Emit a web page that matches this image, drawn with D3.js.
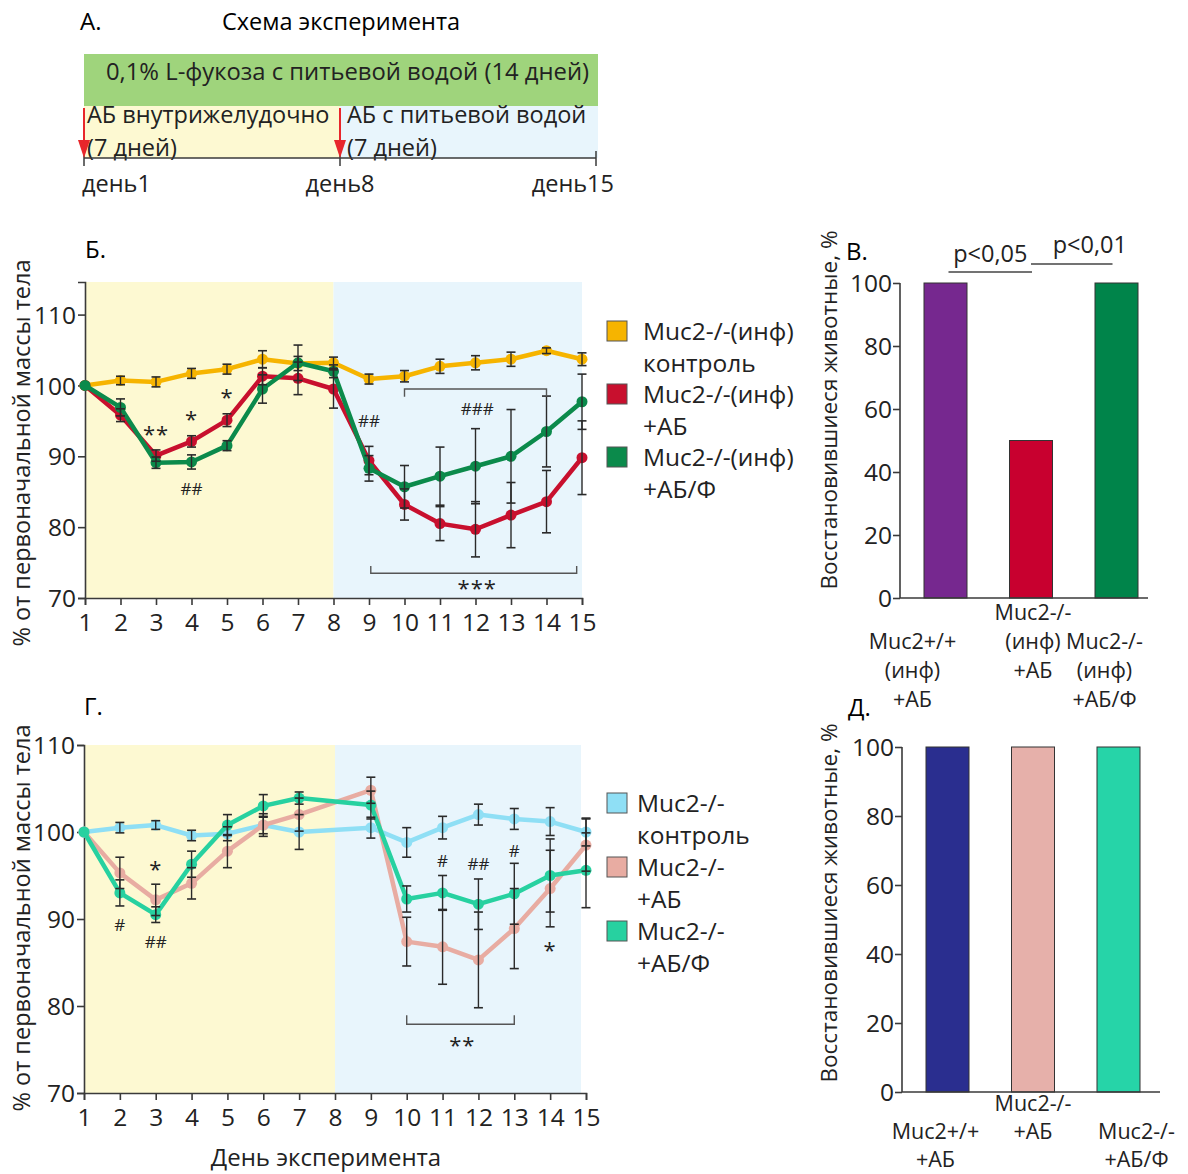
<!DOCTYPE html>
<html><head><meta charset="utf-8">
<script src="https://cdn.jsdelivr.net/npm/d3@7"></script>
<style>
body{margin:0;background:#fff;}
svg{display:block;font-family:"Open Sans",sans-serif;}
</style></head><body>
<svg id="c" width="1188" height="1174"></svg>
<script>
// ---------- DATA ----------
const days = [1,2,3,4,5,6,7,8,9,10,11,12,13,14,15];
const yTicksLine = [70,80,90,100,110];
const xTickLabels = ["1","2","3","4","5","6","7","8","9","10","11","12","13","14","15"];

// Panel Б
const bCtrl    = [100,100.7,100.5,101.7,102.3,103.7,103.1,103.2,100.9,101.3,102.7,103.2,103.7,104.9,103.7];
const bCtrlErr = [0,0.6,0.7,0.7,0.7,1.2,1.0,0.8,0.7,0.8,1.0,1.0,1.0,0.4,0.9];
const bAB      = [100,95.8,90.1,92.1,95.1,101.3,101.0,99.5,89.4,83.2,80.5,79.7,81.7,83.6,89.8];
const bABErr   = [0,0.9,0.8,0.8,0.9,1.2,2.3,2.7,2.0,2.2,2.4,3.9,4.6,4.4,5.2];
const bABF     = [100,96.9,89.1,89.2,91.5,99.5,103.2,102.0,88.3,85.7,87.2,88.6,90.0,93.5,97.7];
const bABFErr  = [0,1.2,0.8,1.0,0.7,2.0,2.5,0.9,1.8,3.0,4.1,5.3,6.6,5.0,3.9];
const bLegend  = [["Muc2-/-(инф)","контроль"],["Muc2-/-(инф)","+АБ"],["Muc2-/-(инф)","+АБ/Ф"]];
const bAnn = [[3,93.9,"**"],[4,96.0,"*"],[5,99.1,"*"],[4,85.4,"##"],[9,95.0,"##"],[12.05,96.7,"###"],[12.05,72.1,"***"]];

// Panel Г
const gCtrl    = [100,100.5,100.8,99.6,99.8,100.8,100.0,null,100.5,98.8,100.5,102.0,101.5,101.2,100.0];
const gCtrlErr = [0,0.6,0.5,0.6,0.8,1.0,2.0,null,1.2,1.7,1.3,1.2,1.2,1.6,1.6];
const gAB      = [100,95.3,92.2,94.1,97.8,100.8,102.0,null,104.8,87.4,86.8,85.3,88.9,93.5,98.5];
const gABErr   = [0,1.8,1.8,1.8,1.9,1.3,1.9,null,1.5,2.8,4.3,5.5,4.6,4.4,3.0];
const gABF     = [100,93.0,90.5,96.3,100.8,103.0,103.9,null,103.1,92.3,93.0,91.7,92.9,95.0,95.6];
const gABFErr  = [0,1.5,0.9,1.5,1.2,1.3,0.7,null,1.6,1.5,2.0,2.9,3.5,4.2,4.3];
const gLegend  = [["Muc2-/-","контроль"],["Muc2-/-","+АБ"],["Muc2-/-","+АБ/Ф"]];
const gAnn = [[2,89.3,"#"],[3,96.4,"*"],[3,87.4,"##"],[11,96.7,"#"],[12,96.3,"##"],[13,97.8,"#"],[14,87.0,"*"],[11.55,76.1,"**"]];

// Bar panels
const barTicks = [0,20,40,60,80,100];
const vCats = [["Muc2+/+","(инф)","+АБ"],["Muc2-/-","(инф)","+АБ"],["Muc2-/-","(инф)","+АБ/Ф"]];
const vVals = [100,50,100];
const vSig = [["p<0,05",0,1],["p<0,01",1,2]];
const dCats = [["Muc2+/+","+АБ"],["Muc2-/-","+АБ"],["Muc2-/-","+АБ/Ф"]];
const dVals = [100,100,100];

// Scheme (panel A)
const schemeDays = [1,8,15];
const schemeLabels = ["день1","день8","день15"];

// ---------- DRAW ----------
const svg = d3.select("#c");
const AX = "#3a3a3a";
const YEL = "#fdf9d2", BLU = "#e8f5fc";

// Panel A
(function(){
  const g = svg.append("g");
  const x = d3.scaleLinear().domain([1,15]).range([84,596]);
  g.append("text").attr("x",80).attr("y",30).attr("font-size",24).text("А.");
  g.append("text").attr("x",341).attr("y",30).attr("font-size",23.5).attr("text-anchor","middle").text("Схема эксперимента");
  g.append("rect").attr("x",x(1)).attr("y",54).attr("width",x(15)+2-x(1)).attr("height",52).attr("fill","#9fd47c");
  g.append("rect").attr("x",x(1)).attr("y",106).attr("width",x(8)-x(1)).attr("height",52).attr("fill",YEL);
  g.append("rect").attr("x",x(8)).attr("y",106).attr("width",x(15)+2-x(8)).attr("height",52).attr("fill",BLU);
  g.append("text").attr("x",106).attr("y",80).attr("font-size",23.8).attr("fill","#222").text("0,1% L-фукоза с питьевой водой (14 дней)");
  g.append("text").attr("x",x(1)+3).attr("y",123).attr("font-size",23.5).attr("fill","#222").text("АБ внутрижелудочно");
  g.append("text").attr("x",x(1)+3).attr("y",156).attr("font-size",23.5).attr("fill","#222").text("(7 дней)");
  g.append("text").attr("x",x(8)+7).attr("y",123).attr("font-size",23.5).attr("fill","#222").text("АБ с питьевой водой");
  g.append("text").attr("x",x(8)+7).attr("y",156).attr("font-size",23.5).attr("fill","#222").text("(7 дней)");
  g.append("line").attr("x1",x(1)).attr("x2",x(15)).attr("y1",158).attr("y2",158).attr("stroke",AX).attr("stroke-width",1.5);
  schemeDays.forEach((d,i)=>{
    g.append("line").attr("x1",x(d)).attr("x2",x(d)).attr("y1",151).attr("y2",166).attr("stroke",AX).attr("stroke-width",1.5);
    g.append("text").attr("x",x(d)).attr("y",192).attr("font-size",23.5).attr("fill","#222")
      .attr("text-anchor", i===0?"start":(i===1?"middle":"end")).attr("dx", i===0?-2:(i===2?18:0)).text(schemeLabels[i]);
  });
  [1,8].forEach(d=>{
    g.append("line").attr("x1",x(d)).attr("x2",x(d)).attr("y1",108).attr("y2",146).attr("stroke","#e8262b").attr("stroke-width",2);
    g.append("path").attr("d",`M${x(d)-6},140 L${x(d)+6},140 L${x(d)},158 Z`).attr("fill","#e8262b");
  });
})();

function linePanel(cfg){
  const g = svg.append("g");
  const x = d3.scaleLinear().domain([1,15]).range(cfg.xr);
  const y = d3.scaleLinear().domain(cfg.yd).range(cfg.yr);
  g.append("rect").attr("x",x(1)).attr("y",y(cfg.yd[1])).attr("width",x(8)-x(1)).attr("height",y(cfg.yd[0])-y(cfg.yd[1])).attr("fill",YEL);
  g.append("rect").attr("x",x(8)).attr("y",y(cfg.yd[1])).attr("width",cfg.bgEnd-x(8)).attr("height",y(cfg.yd[0])-y(cfg.yd[1])).attr("fill",BLU);
  const ya = g.append("g").attr("transform",`translate(${x(1)},0)`).call(d3.axisLeft(y).tickValues(yTicksLine).tickSize(7).tickPadding(2).tickFormat(d3.format("d")));
  const xa = g.append("g").attr("transform",`translate(0,${y(cfg.yd[0])})`).call(d3.axisBottom(x).tickValues(days).tickSize(7).tickPadding(3).tickFormat((d,i)=>xTickLabels[i]));
  [ya,xa].forEach(a=>{
    a.selectAll("path,line").attr("stroke",AX).attr("stroke-width",1.6);
    a.selectAll("text").attr("font-size",24.5).attr("fill","#222").attr("font-family","Open Sans");
  });
  xa.selectAll("text").attr("dy","0.95em");
  ya.selectAll("text").attr("dy","0.35em");
  g.append("text").attr("x",x(1)).attr("y",cfg.titleY).attr("font-size",24).text(cfg.title);
  g.append("text").attr("transform",`translate(30,${cfg.ylabY}) rotate(-90)`).attr("text-anchor","middle").attr("font-size",23.5).attr("fill","#222").text("% от первоначальной массы тела");
  const line = d3.line().x(d=>x(d[0])).y(d=>y(d[1]));
  cfg.series.forEach(s=>{
    const pts = days.map((d,i)=>[d,s.v[i]]).filter(p=>p[1]!=null);
    g.append("path").attr("d",line(pts)).attr("fill","none").attr("stroke",s.c).attr("stroke-width",4.5).attr("stroke-linejoin","round");
    g.selectAll(null).data(pts).enter().append("circle")
      .attr("cx",d=>x(d[0])).attr("cy",d=>y(d[1])).attr("r",5.5).attr("fill",s.c);
  });
  cfg.series.forEach(s=>{
    days.forEach((d,i)=>{
      const v=s.v[i], e=s.e[i];
      if(v==null||!e) return;
      const cx=x(d), y1=y(v+e), y2=y(v-e);
      g.append("line").attr("x1",cx).attr("x2",cx).attr("y1",y1).attr("y2",y2).attr("stroke","#2a2a2a").attr("stroke-width",1.4);
      [y1,y2].forEach(yy=>g.append("line").attr("x1",cx-4.5).attr("x2",cx+4.5).attr("y1",yy).attr("y2",yy).attr("stroke","#2a2a2a").attr("stroke-width",1.6));
    });
  });
  cfg.ann.forEach(a=>{
    const star = a[2].indexOf("*")>=0;
    g.append("text").attr("x",x(a[0])).attr("y",y(a[1])).attr("dy",star?"0.6em":"0.35em").attr("text-anchor","middle")
      .attr("font-size",star?22:17).attr("letter-spacing",star?"1px":"0").attr("fill","#222").text(a[2]);
  });
  cfg.brackets.forEach(b=>{
    const yb=y(b.v), yt=y(b.v+b.t);
    g.append("path").attr("d",`M${x(b.a)},${yt} L${x(b.a)},${yb} L${x(b.b)},${yb} L${x(b.b)},${yt}`)
      .attr("fill","none").attr("stroke","#555").attr("stroke-width",1.4);
  });
  cfg.legend.forEach((L,i)=>{
    const ly = cfg.legY + i*cfg.legStep;
    g.append("rect").attr("x",607).attr("y",ly-10).attr("width",20).attr("height",20).attr("fill",cfg.series[i].c).attr("stroke","#555").attr("stroke-width",1);
    L.forEach((t,j)=>g.append("text").attr("x",cfg.legX).attr("y",ly+j*cfg.legLine).attr("dy","0.35em").attr("font-size",24.5).attr("fill","#222").text(t));
  });
  return {x,y,g};
}

linePanel({
  xr:[85,582], yd:[70,114.6], yr:[598,282], bgEnd:582,
  title:"Б.", titleY:258, ylabY:453,
  series:[{v:bCtrl,e:bCtrlErr,c:"#f6b400"},{v:bAB,e:bABErr,c:"#c8102e"},{v:bABF,e:bABFErr,c:"#0b8a4b"}],
  ann:bAnn,
  brackets:[{a:10,b:14,v:99.5,t:-1.1},{a:9.05,b:14.85,v:73.5,t:1.0}],
  legend:bLegend, legX:643, legY:331, legStep:63, legLine:32
});

const pg = linePanel({
  xr:[84,586], yd:[70,110], yr:[1093,745], bgEnd:581,
  title:"Г.", titleY:715, ylabY:918,
  series:[{v:gCtrl,e:gCtrlErr,c:"#8fdff5"},{v:gAB,e:gABErr,c:"#e8aca2"},{v:gABF,e:gABFErr,c:"#27d1a0"}],
  ann:gAnn,
  brackets:[{a:10,b:13,v:77.9,t:1.05}],
  legend:gLegend, legX:637, legY:803, legStep:64, legLine:32
});
pg.g.append("text").attr("x",326).attr("y",1166).attr("text-anchor","middle").attr("font-size",24).attr("fill","#222").text("День эксперимента");

function barPanel(cfg){
  const g = svg.append("g");
  const y = d3.scaleLinear().domain([0,100]).range(cfg.yr);
  const x = d3.scalePoint().domain(cfg.cats.map((c,i)=>i)).range(cfg.cr);
  g.selectAll(null).data(cfg.vals).enter().append("rect")
    .attr("x",(d,i)=>x(i)-21.5).attr("width",43).attr("y",d=>y(d)).attr("height",d=>y(0)-y(d))
    .attr("fill",(d,i)=>cfg.colors[i]).attr("stroke","#333").attr("stroke-width",1);
  const ya = g.append("g").attr("transform",`translate(${cfg.ax},0)`).call(d3.axisLeft(y).tickValues(barTicks).tickSize(7).tickPadding(1));
  ya.select(".domain").remove();
  ya.selectAll("line").attr("stroke",AX).attr("stroke-width",1.6);
  ya.selectAll("text").attr("font-size",24.5).attr("fill","#222").attr("font-family","Open Sans").attr("dy","0.35em");
  g.append("line").attr("x1",cfg.ax).attr("x2",cfg.ax).attr("y1",y(0)).attr("y2",y(100)).attr("stroke",AX).attr("stroke-width",1.6);
  g.append("line").attr("x1",cfg.ax).attr("x2",cfg.axEnd).attr("y1",y(0)).attr("y2",y(0)).attr("stroke",AX).attr("stroke-width",1.6);
  g.append("text").attr("x",cfg.titleX).attr("y",cfg.titleY).attr("font-size",24).text(cfg.title);
  g.append("text").attr("transform",`translate(${cfg.ylabX},${cfg.ylabY}) rotate(-90)`).attr("text-anchor","middle").attr("font-size",22.5).attr("fill","#222").text("Восстановившиеся животные, %");
  cfg.cats.forEach((lines,i)=>{
    lines.forEach((t,j)=>g.append("text").attr("x",x(i)+cfg.labDx[i]).attr("y",cfg.labY[i]+j*cfg.labLine).attr("dy","0.35em")
      .attr("text-anchor","middle").attr("font-size",cfg.labFs).attr("fill","#222").text(t));
  });
  return {x,y,g};
}

const vb = barPanel({
  yr:[598,283], cr:[945.5,1116.5], cats:vCats, vals:vVals, colors:["#76288f","#c8002f","#00844a"],
  ax:900, axEnd:1148, title:"В.", titleX:846, titleY:260, ylabX:837, ylabY:410,
  labDx:[-33,2,-12], labY:[641,612,641], labLine:29, labFs:21.5
});
// significance lines
vSig.forEach((s,k)=>{
  const xa = vb.x(s[1]), xb = vb.x(s[2]);
  const x1 = k===0 ? xa+3 : xa, x2 = k===0 ? xb+1 : xb-4;
  const ly = k===0?272:264, ty = k===0?254:245;
  const tx = k===0 ? (x1+x2)/2 : (xa+xb)/2 + 16;
  vb.g.append("line").attr("x1",x1).attr("x2",x2).attr("y1",ly).attr("y2",ly).attr("stroke","#444").attr("stroke-width",1.4);
  vb.g.append("text").attr("x",tx).attr("y",ty).attr("dy","0.35em").attr("text-anchor","middle").attr("font-size",23.5).attr("fill","#222").text(s[0]);
});

barPanel({
  yr:[1092,747], cr:[947.5,1118.5], cats:dCats, vals:dVals, colors:["#2a2e8f","#e6b0aa","#26d4a8"],
  ax:902, axEnd:1160, title:"Д.", titleX:848, titleY:716, ylabX:837, ylabY:903,
  labDx:[-12,0,18], labY:[1131,1103], labY:[1131,1103,1131], labLine:28, labFs:21.5
});
</script>
</body></html>
